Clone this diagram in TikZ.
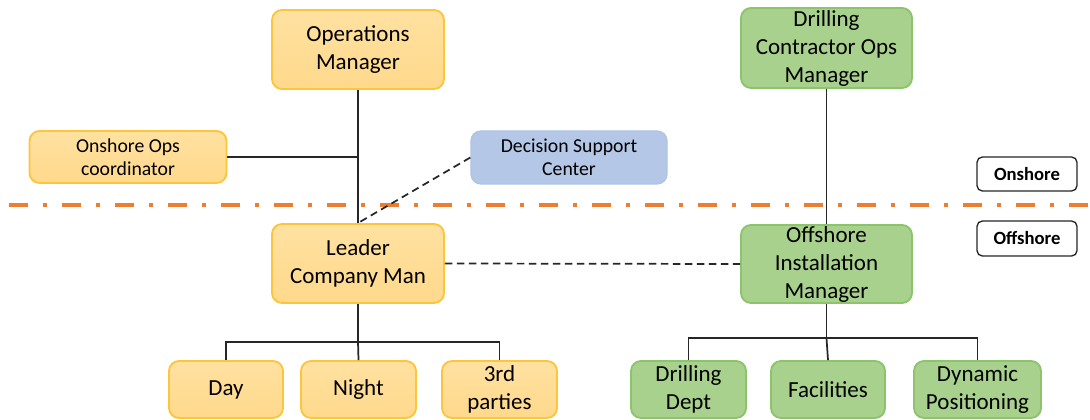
\documentclass[tikz,border=0pt]{standalone}
\usepackage{fontspec}
\setmainfont{Carlito}
\definecolor{orfill}{HTML}{FFD98C}
\definecolor{ortop}{HTML}{FFE1A0}
\definecolor{orline}{HTML}{FBC63C}
\definecolor{grfill}{HTML}{A9D18E}
\definecolor{grline}{HTML}{8CC46C}
\definecolor{blfill}{HTML}{B4C7E7}
\definecolor{blline}{HTML}{AEC3E6}
\definecolor{sep}{HTML}{ED7D31}
\begin{document}
\begin{tikzpicture}[x=0.75pt,y=-0.75pt,
  base/.style={rounded corners=7.5pt, align=center, inner sep=0pt, text=black},
  big/.style={font=\fontsize{17.25}{21}\selectfont},
  small/.style={font=\fontsize{14.8}{17.5}\selectfont},
  obox/.style={base, draw=orline, line width=1.4pt, top color=ortop, bottom color=orfill},
  gbox/.style={base, draw=grline, line width=1.4pt, fill=grfill},
  bbox/.style={base, draw=blline, line width=1pt, fill=blfill},
  tag/.style={draw=black!85, line width=1pt, rounded corners=4pt, fill=white, inner sep=0pt,
    minimum width=75pt, font=\bfseries\fontsize{14}{17}\selectfont},
  conn/.style={draw=black!85, line width=1.3pt},
  dconn/.style={conn, dash pattern=on 5.5pt off 3.5pt}]
\useasboundingbox (0,0) rectangle (1090,420);
% separator
\coordinate (sepL) at (9,205);
\coordinate (sepR) at (1090,205);
\draw[sep, line width=3.2pt, dash pattern=on 14.25pt off 11.25pt on 3pt off 11.25pt] (sepL) -- (sepR);
% nodes
\node[obox, big, minimum width=129pt, minimum height=59.25pt] (ops) at (358,49.5) {Operations\\Manager};
\node[obox, small, minimum width=147.75pt, minimum height=39pt] (coord) at (128,157) {Onshore Ops\\coordinator};
\node[bbox, small, minimum width=147pt, minimum height=39.75pt] (dsc) at (569,157.5) {Decision Support\\Center};
\node[gbox, big, minimum width=128.25pt, minimum height=60pt] (dcom) at (826.5,48) {Drilling\\Contractor Ops\\Manager};
\node[tag, minimum height=25.5pt] (onsh) at (1027,174) {Onshore};
\node[obox, big, minimum width=129pt, minimum height=59.25pt] (leader) at (358,263.5) {Leader\\Company Man};
\node[gbox, big, minimum width=128.25pt, minimum height=58.5pt] (oim) at (826.5,264) {Offshore\\Installation\\Manager};
\node[tag, minimum height=26.25pt] (offsh) at (1027,238.5) {Offshore};
\node[obox, big, minimum width=85.5pt, minimum height=42.75pt] (day) at (226,389.5) {Day};
\node[obox, big, minimum width=86.25pt, minimum height=42.75pt] (night) at (358.5,389.5) {Night};
\node[obox, big, minimum width=86.25pt, minimum height=42.75pt] (third) at (499.5,389.5) {3rd\\parties};
\node[gbox, big, minimum width=86.25pt, minimum height=42.75pt] (drill) at (688.5,389.5) {Drilling\\Dept};
\node[gbox, big, minimum width=85.5pt, minimum height=42.75pt] (fac) at (828,389.5) {Facilities};
\node[gbox, big, minimum width=95.25pt, minimum height=42.75pt] (dp) at (977.5,389.5) {Dynamic\\Positioning};
% connectors
\draw[conn] (ops.south) -- (leader.north);
\draw[conn] (coord.east) -- (coord.east -| ops.south);
\draw[dconn] (dsc.west) -- (leader.north);
\draw[conn] (dcom.south) -- (oim.north);
\draw[dconn] (leader.east) -- (oim.west);
\coordinate (lb) at (358,342);
\draw[conn] (leader.south) -- (lb);
\draw[conn] (day.north) |- (lb) -| (third.north);
\draw[conn] (lb) -- (night.north);
\coordinate (ob) at (826.5,338);
\draw[conn] (oim.south) -- (ob);
\draw[conn] (drill.north) |- (ob) -| (dp.north);
\draw[conn] (ob) -- (fac.north);
\end{tikzpicture}
\end{document}
